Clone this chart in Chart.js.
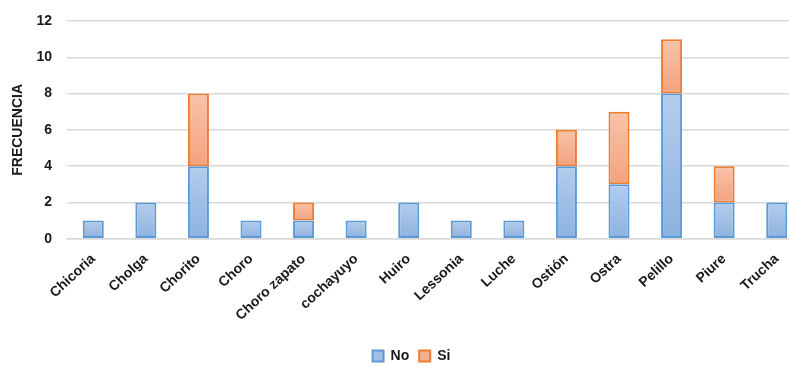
<!DOCTYPE html>
<html>
<head>
<meta charset="utf-8">
<script src="https://cdn.jsdelivr.net/npm/chart.js@4.4.1/dist/chart.umd.min.js"></script>
<style>
  html, body { margin: 0; padding: 0; background: #fff; overflow: hidden; }
  #wrap { position: relative; width: 803px; height: 367px; }
</style>
</head>
<body>
<div id="wrap"><canvas id="chart"></canvas></div>
<script>
const categories = ['Chicoria', 'Cholga', 'Chorito', 'Choro', 'Choro zapato', 'cochayuyo', 'Huiro',
  'Lessonia', 'Luche', 'Ostión', 'Ostra', 'Pelillo', 'Piure', 'Trucha'];
const noValues = [1, 2, 4, 1, 1, 1, 2, 1, 1, 4, 3, 8, 2, 2];
const siValues = [0, 0, 4, 0, 1, 0, 0, 0, 0, 2, 4, 3, 2, 0];
const yTicks = [0, 2, 4, 6, 8, 10, 12];

const seriesData = [noValues, siValues];

// vertical gradient per bar segment, lighter at the top
function segmentFill(light, dark, flat) {
  return (ctx) => {
    const chart = ctx.chart;
    const y = chart.scales && chart.scales.y;
    if (!chart.chartArea || !y || ctx.type !== 'data') return flat;
    const i = ctx.dataIndex, d = ctx.datasetIndex;
    let base = 0;
    for (let k = 0; k < d; k++) base += seriesData[k][i];
    const val = seriesData[d][i];
    const top = y.getPixelForValue(base + val);
    const bottom = y.getPixelForValue(base);
    if (!isFinite(top) || !isFinite(bottom) || top === bottom) return flat;
    const g = chart.ctx.createLinearGradient(0, top, 0, bottom);
    g.addColorStop(0, light);
    g.addColorStop(1, dark);
    return g;
  };
}

// nudge the legend a little lower and to the right
const legendShift = {
  id: 'legendShift',
  afterLayout(chart) {
    const lg = chart.legend;
    if (!lg) return;
    lg.top += 10; lg.bottom += 10;
    lg.left += 5; lg.right += 5;
  }
};

const font = { family: '"Liberation Sans", Arial, sans-serif', weight: 'bold', size: 14 };

new Chart(document.getElementById('chart'), {
  type: 'bar',
  data: {
    labels: categories,
    datasets: [
      {
        label: 'No',
        data: noValues,
        backgroundColor: segmentFill('#b4cdec', '#8db1e0', '#a2c0e7'),
        borderColor: '#5b9bd5',
        borderWidth: 2,
        borderSkipped: false,
        barPercentage: 0.4,
        categoryPercentage: 1.0
      },
      {
        label: 'Si',
        data: siValues,
        backgroundColor: segmentFill('#f8c3a8', '#f3a27f', '#f5b091'),
        borderColor: '#ed7d31',
        borderWidth: 2,
        borderSkipped: false,
        barPercentage: 0.4,
        categoryPercentage: 1.0
      }
    ]
  },
  plugins: [legendShift],
  options: {
    responsive: true,
    maintainAspectRatio: false,
    animation: false,
    layout: { padding: { top: 21, left: 10, right: 0, bottom: 4 } },
    plugins: {
      legend: {
        position: 'bottom',
        labels: {
          boxWidth: 11,
          boxHeight: 11,
          padding: 10,
          color: '#1a1a1a',
          font: font,
          generateLabels: (chart) => chart.data.datasets.map((ds, i) => ({
            text: ds.label,
            fillStyle: i === 0 ? '#a2c0e7' : '#f5b091',
            strokeStyle: ds.borderColor,
            lineWidth: 2,
            datasetIndex: i,
            fontColor: '#1a1a1a'
          }))
        }
      },
      tooltip: { enabled: false }
    },
    scales: {
      x: {
        stacked: true,
        grid: { display: false },
        border: { display: true, color: '#d9d9d9', width: 1.5 },
        ticks: {
          color: '#1a1a1a',
          font: font,
          minRotation: 43,
          maxRotation: 43,
          autoSkip: false,
          padding: 4
        },
        afterFit: (axis) => { axis.height += 1; axis.paddingLeft = 0; axis.paddingRight = 0; }
      },
      y: {
        stacked: true,
        min: 0,
        max: 12,
        afterBuildTicks: (axis) => { axis.ticks = yTicks.map(v => ({ value: v })); },
        afterFit: (axis) => { axis.width = 57; axis.paddingTop = 8; axis.paddingBottom = 8; },
        grid: { color: '#d9d9d9', lineWidth: 1.5, drawTicks: false },
        border: { display: false },
        ticks: { color: '#1a1a1a', font: font, padding: 15 },
        title: {
          display: true,
          text: 'FRECUENCIA',
          color: '#1a1a1a',
          font: font,
          padding: { top: 0, bottom: 10 }
        }
      }
    }
  }
});
</script>
</body>
</html>
